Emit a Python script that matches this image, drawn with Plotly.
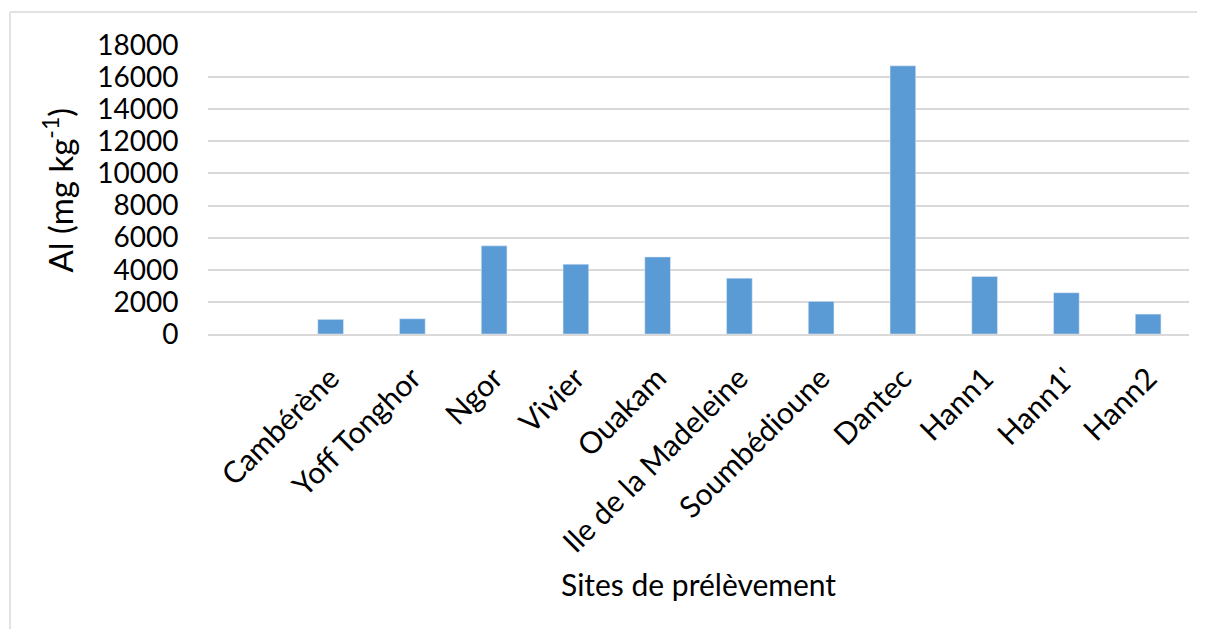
import plotly.graph_objects as go

categories = [" ", "Cambérène", "Yoff Tonghor", "Ngor", "Vivier", "Ouakam",
              "Ile de la Madeleine", "Soumbédioune", "Dantec", "Hann1", "Hann1'", "Hann2"]
al_values = [None, 910, 950, 5490, 4350, 4800, 3480, 2030, 16700, 3580, 2570, 1240]
y_ticks = [0, 2000, 4000, 6000, 8000, 10000, 12000, 14000, 16000, 18000]
y_ticktext = ["0", "2000", "4000", "6000", "8000", "10000", "12000", "14000", "16000", "18000"]

FONT = "Lato"
GRID = "#D9D9D9"

fig = go.Figure()
fig.add_trace(go.Bar(x=categories, y=al_values, marker=dict(color="#5B9BD5"),
                     hoverinfo="x+y"))

fig.update_layout(
    width=1197, height=621,
    margin=dict(l=200, r=16, t=37, b=295),
    paper_bgcolor="white", plot_bgcolor="white",
    bargap=0.686,
    showlegend=False,
    font=dict(family=FONT, color="black"),
    xaxis=dict(
        type="category",
        categoryorder="array", categoryarray=categories,
        tickangle=-45,
        tickfont=dict(size=30, family=FONT, color="black"),
        ticks="outside", ticklen=13, tickcolor="rgba(0,0,0,0)",
        showgrid=False, zeroline=False,
        showline=True, linecolor=GRID, linewidth=1.5,
    ),
    yaxis=dict(
        range=[0, 18000],
        tickvals=y_ticks, ticktext=y_ticktext,
        tickfont=dict(size=28, family=FONT, color="black"),
        ticks="outside", ticklen=23, tickcolor="rgba(0,0,0,0)",
        showgrid=True, gridcolor=GRID, gridwidth=1.5,
        zeroline=False, showline=False,
    ),
    annotations=[
        dict(text="Sites de prélèvement", xref="paper", yref="paper",
             x=0.5, y=-0.866, xanchor="center", yanchor="middle",
             showarrow=False, font=dict(size=30, family=FONT, color="black")),
        dict(text="Al (mg kg<sup>-1</sup>)", xref="paper", yref="paper",
             x=-0.153, y=0.5, xanchor="center", yanchor="middle", textangle=-90,
             showarrow=False, font=dict(size=33, family=FONT, color="black")),
    ],
    shapes=[
        dict(type="line", xref="paper", yref="paper", x0=-0.2018, x1=-0.2018,
             y0=1.114, y1=-1.1, line=dict(color=GRID, width=1.5)),
        dict(type="line", xref="paper", yref="paper", x0=-0.2018, x1=1.1,
             y0=1.114, y1=1.114, line=dict(color=GRID, width=1.5)),
    ],
)

fig.write_html("out.html")
